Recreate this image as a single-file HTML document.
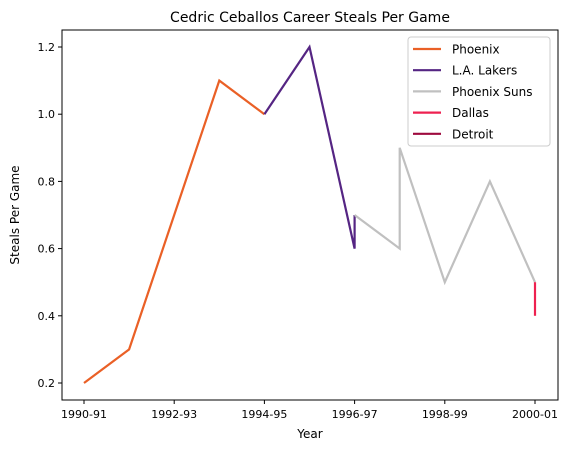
<!DOCTYPE html>
<html><head><meta charset="utf-8"><style>
body{margin:0;background:#fff}
svg text{font-family:"DejaVu Sans","Liberation Sans",sans-serif;fill:#000}
</style></head><body>
<svg id="chart" width="573" height="453" xmlns="http://www.w3.org/2000/svg">
<text x="310" y="22" font-size="14" text-anchor="middle">Cedric Ceballos Career Steals Per Game</text>
<rect x="62" y="30" width="496" height="370" fill="none" stroke="#000" stroke-width="1"/>
<g id="xticks"></g><g id="yticks"></g><g id="series"></g>
<text x="310" y="438" font-size="12" text-anchor="middle">Year</text>
<text x="19" y="215" font-size="12" text-anchor="middle" transform="rotate(-90 19 215)">Steals Per Game</text>
<g>
<rect x="408" y="37" width="142" height="109" rx="3" fill="#fff" fill-opacity="0.8" stroke="#ccc"/>
<g id="legend-items"></g>
</g>
</svg>
<script>
const xTickLabels=["1990-91","1992-93","1994-95","1996-97","1998-99","2000-01"];
const xTickIdx=[0,2,4,6,8,10];
const yTicks=[0.2,0.4,0.6,0.8,1.0,1.2];
const teams=["Phoenix","L.A. Lakers","Phoenix Suns","Dallas","Detroit"];
const colors=["#ea6026","#552583","#c0c0c0","#ee2150","#9e0a3e"];
const phoenixX=[0,1,2,3,4];const phoenixY=[0.2,0.3,0.7,1.1,1.0];
const lakersX=[4,5,6,6];const lakersY=[1.0,1.2,0.6,0.7];
const sunsX=[6,7,7,8,9,10];const sunsY=[0.7,0.6,0.9,0.5,0.8,0.5];
const dallasX=[10,10];const dallasY=[0.5,0.4];
const detroitX=[10];const detroitY=[0.4];
const seriesX=[phoenixX,lakersX,sunsX,dallasX,detroitX];
const seriesY=[phoenixY,lakersY,sunsY,dallasY,detroitY];
const NS="http://www.w3.org/2000/svg";
const xs=i=>84+i*45.1, ys=v=>383-(v-0.2)*336;
function mk(t,a,p){const e=document.createElementNS(NS,t);for(const k in a)e.setAttribute(k,a[k]);p.appendChild(e);return e;}
const xt=document.getElementById('xticks');
xTickLabels.forEach((l,i)=>{const x=xs(xTickIdx[i]);
 const ln=mk('line',{x1:x,x2:x,y1:400,y2:404,stroke:'#000'},xt);
 
 
 const t=mk('text',{x:x,y:418,'font-size':11,'text-anchor':'middle'},xt);t.textContent=l;
 
 });
const yt=document.getElementById('yticks');
yTicks.forEach(v=>{const y=ys(v);
 const ln=mk('line',{x1:58,x2:62,y1:y,y2:y,stroke:'#000'},yt);
 
 
 const t=mk('text',{x:55,y:y+4,'font-size':11,'text-anchor':'end'},yt);t.textContent=v.toFixed(1);
 
 });
const sg=document.getElementById('series');
seriesX.forEach((X,s)=>{const pts=X.map((x,i)=>xs(x)+','+ys(seriesY[s][i])).join(' ');
 const pl=mk('polyline',{points:pts,fill:'none',stroke:colors[s],'stroke-width':2.2},sg);
 
 });
const lg=document.getElementById('legend-items');
teams.forEach((n,i)=>{const y=49+i*21.2;
 const ln=mk('line',{x1:413,x2:441,y1:y,y2:y,stroke:colors[i],'stroke-width':2.2},lg);
 
 
 const t=mk('text',{x:452,y:y+4.5,'font-size':12},lg);t.textContent=n;
 
 });
</script>
</body></html>
